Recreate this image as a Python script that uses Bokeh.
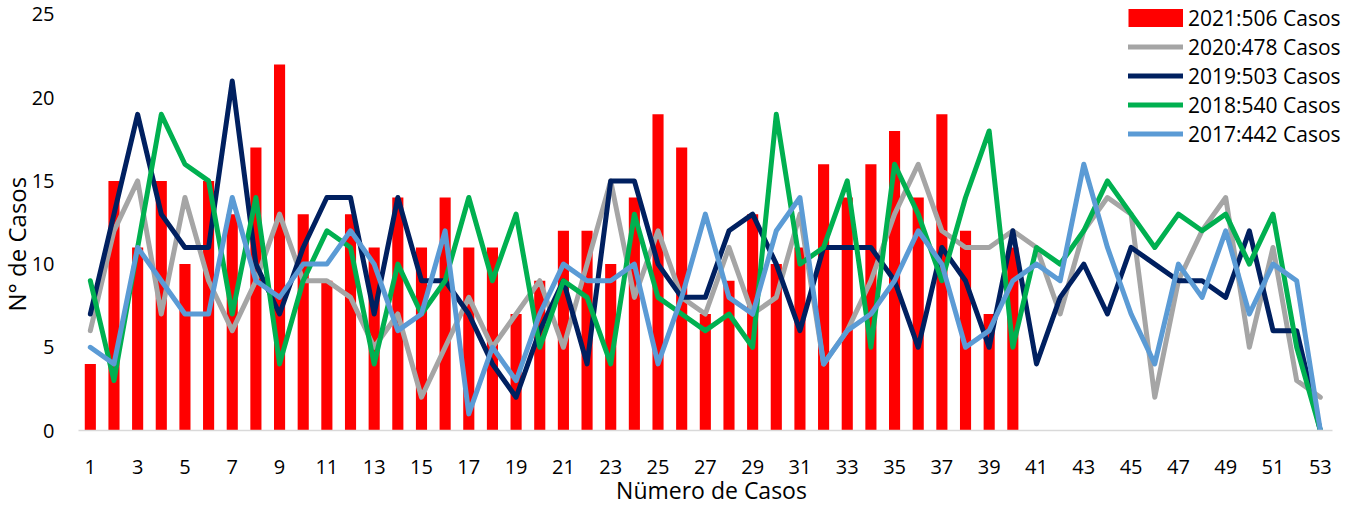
from bokeh.plotting import figure
from bokeh.models import Range1d, FixedTicker, Legend, LegendItem, Title
from bokeh.embed import file_html
from bokeh.resources import INLINE

# ---- data ----
weeks = list(range(1, 54))
weeks_2021 = list(range(1, 41))
cases_2021 = [4, 15, 11, 15, 10, 15, 13, 17, 22, 13, 9, 13, 11, 14, 11, 14, 11, 11, 7, 9,
              12, 12, 10, 14, 19, 17, 7, 9, 13, 10, 11, 16, 14, 16, 18, 14, 19, 12, 7, 11]
cases_2020 = [6, 12, 15, 7, 14, 9, 6, 9, 13, 9, 9, 8, 5, 7, 2, 5, 8, 5, 7, 9,
              5, 10, 15, 8, 12, 8, 7, 11, 7, 8, 13, 4, 6, 9, 13, 16, 12, 11, 11, 12,
              11, 7, 12, 14, 13, 2, 9, 12, 14, 5, 11, 3, 2]
cases_2019 = [7, 13, 19, 13, 11, 11, 21, 10, 7, 11, 14, 14, 7, 14, 9, 9, 7, 4, 2, 6,
              9, 4, 15, 15, 10, 8, 8, 12, 13, 10, 6, 11, 11, 11, 9, 5, 11, 9, 5, 12,
              4, 8, 10, 7, 11, 10, 9, 9, 8, 12, 6, 6, 0]
cases_2018 = [9, 3, 11, 19, 16, 15, 7, 14, 4, 9, 12, 11, 4, 10, 7, 9, 14, 9, 13, 5,
              9, 8, 4, 13, 8, 7, 6, 7, 5, 19, 10, 11, 15, 5, 16, 13, 9, 14, 18, 5,
              11, 10, 12, 15, 13, 11, 13, 12, 13, 10, 13, 5, 0]
cases_2017 = [5, 4, 11, 9, 7, 7, 14, 9, 8, 10, 10, 12, 10, 6, 7, 12, 1, 5, 3, 7,
              10, 9, 9, 10, 4, 8, 13, 8, 7, 12, 14, 4, 6, 7, 9, 12, 10, 5, 6, 9,
              10, 9, 16, 11, 7, 4, 10, 8, 12, 7, 10, 9, 0]
labels = ["2021:506 Casos", "2020:478 Casos", "2019:503 Casos", "2018:540 Casos", "2017:442 Casos"]
x_ticks = list(range(1, 54, 2))
y_ticks = [0, 5, 10, 15, 20, 25]
x_title = "Nümero de Casos"
y_title = "N° de Casos"

FONT = "Open Sans"
PX_X = 23.654   # pixels per week
PX_Y = 16.68    # pixels per case
FRAME_W = 1266
FRAME_H = 428

p = figure(width=1355, height=508,
           x_range=Range1d(0.5, 0.5 + FRAME_W / PX_X), y_range=Range1d(0, FRAME_H / PX_Y),
           output_backend="svg", toolbar_location=None,
           min_border_left=78, min_border_right=1355 - 78 - FRAME_W,
           min_border_top=3, min_border_bottom=508 - 3 - FRAME_H)
p.outline_line_color = None
p.grid.visible = False
p.background_fill_color = "white"

bars = p.vbar(x=weeks_2021, top=cases_2021, width=0.47, fill_color="#FF0000", line_color=None)
colors = ["#A5A5A5", "#002060", "#00B050", "#5B9BD5"]
series = [cases_2020, cases_2019, cases_2018, cases_2017]
line_rs = []
for s, c in zip(series, colors):
    r = p.line(weeks, s, line_color=c, line_width=5, line_join="round", line_cap="round")
    line_rs.append(r)

# invisible helper (one NaN point) used only to draw the red legend swatch
legend_patch = p.line([1], [float("nan")], line_color="#FF0000", line_width=18, line_cap="butt")

# axes
xa = p.xaxis[0]
xa.ticker = FixedTicker(ticks=x_ticks)
xa.bounds = (0.5, 53.5)
xa.major_tick_line_color = None
xa.minor_tick_line_color = None
xa.axis_line_color = "#D9D9D9"
xa.axis_line_width = 1.5
xa.major_label_standoff = 23
xa.major_label_text_font = FONT
xa.major_label_text_font_size = "20px"
xa.major_label_text_color = "#000000"
xa.axis_label = x_title
xa.axis_label_text_font = FONT
xa.axis_label_text_font_size = "23px"
xa.axis_label_text_font_style = "normal"
xa.axis_label_text_color = "#000000"
xa.axis_label_text_line_height = 1.0
xa.axis_label_standoff = -3

ya = p.yaxis[0]
ya.ticker = FixedTicker(ticks=y_ticks)
ya.major_tick_line_color = None
ya.minor_tick_line_color = None
ya.axis_line_color = None
ya.major_label_standoff = 18
ya.major_label_text_font = FONT
ya.major_label_text_font_size = "20px"
ya.major_label_text_color = "#000000"

p.add_layout(Title(text=y_title, align="left", offset=119, standoff=-8,
                   text_font=FONT, text_font_size="24px", text_font_style="normal",
                   text_color="#000000"), "left")

items = [LegendItem(label=labels[0], renderers=[legend_patch])]
for lab, r in zip(labels[1:], line_rs):
    items.append(LegendItem(label=lab, renderers=[r]))
legend = Legend(items=items, location=(1050, 282), orientation="vertical",
                glyph_width=55, glyph_height=29, label_height=29, label_standoff=5,
                spacing=0, padding=0, margin=0, border_line_color=None,
                background_fill_alpha=0, label_text_font=FONT,
                label_text_font_size="21px", label_text_color="#000000")
p.add_layout(legend)

open("out.html", "w").write(file_html(p, INLINE))
